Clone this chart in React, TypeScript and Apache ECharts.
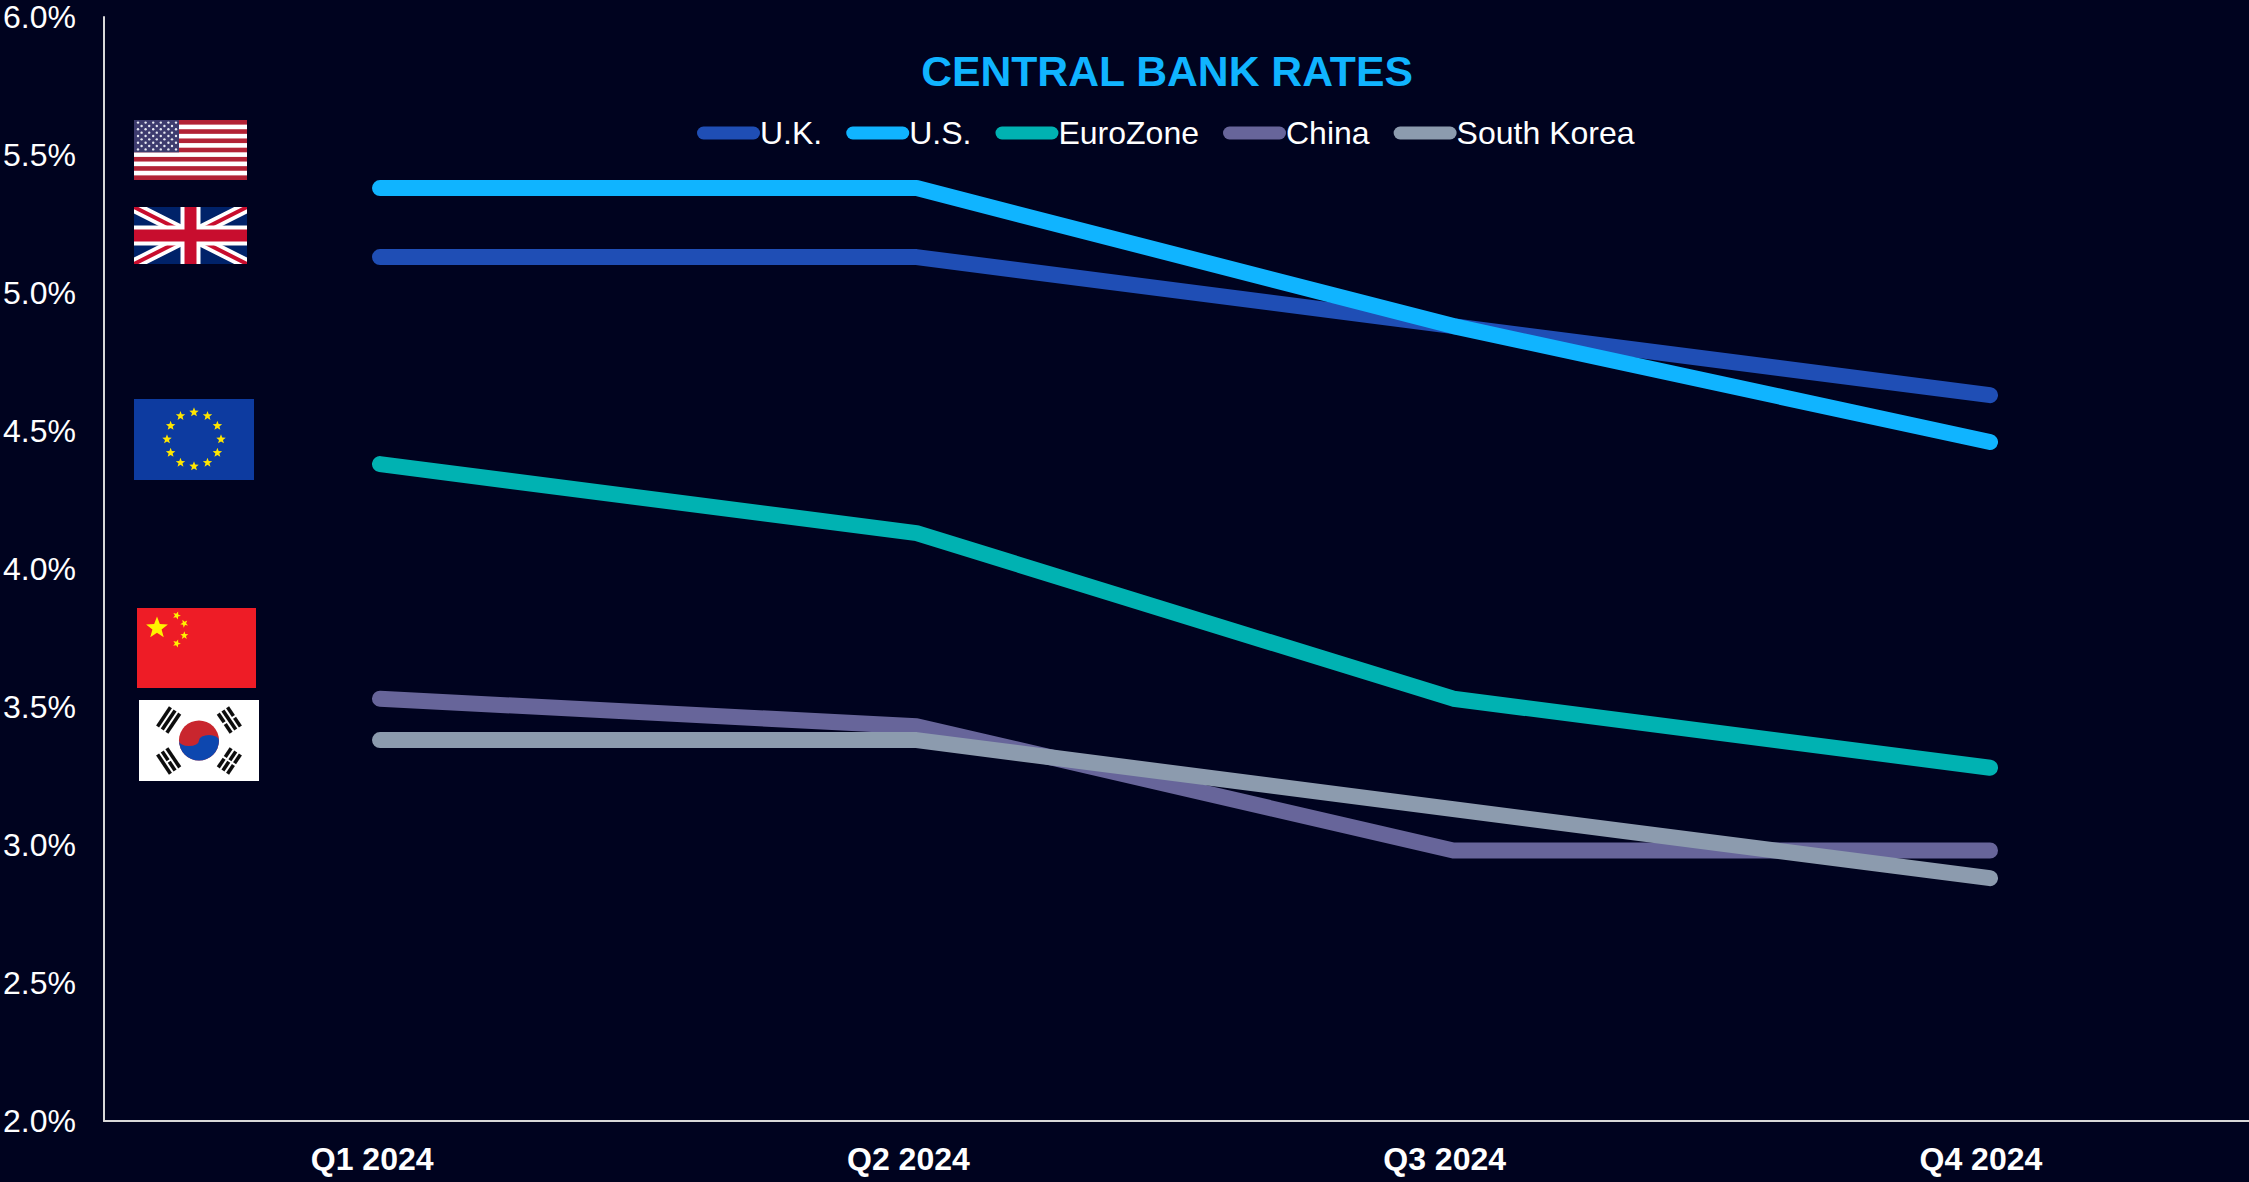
import React, { useEffect, useRef } from "react";
import * as echarts from "echarts";

const quarters = ["Q1 2024", "Q2 2024", "Q3 2024", "Q4 2024"];
const ukRates = [5.13, 5.13, 4.88, 4.63];
const usRates = [5.38, 5.38, 4.88, 4.46];
const euroRates = [4.38, 4.13, 3.53, 3.28];
const chinaRates = [3.53, 3.43, 2.98, 2.98];
const koreaRates = [3.38, 3.38, 3.13, 2.88];

const seriesNames = ["U.K.", "U.S.", "EuroZone", "China", "South Korea"];
const seriesColors = ["#1F4EB5", "#10B4FF", "#00B2B2", "#67659A", "#8C9BAE"];
const seriesValues = [ukRates, usRates, euroRates, chinaRates, koreaRates];

const BACKGROUND = "#00031F";
const FONT = "'Liberation Sans', Arial, sans-serif";
const STADIUM = "path://M6.5 0H56.5A6.5 6.5 0 0 1 56.5 13H6.5A6.5 6.5 0 0 1 6.5 0Z";

const svgUri = (w: number, h: number, body: string) =>
  "data:image/svg+xml;charset=utf-8," +
  encodeURIComponent(
    `<svg xmlns="http://www.w3.org/2000/svg" width="${w}" height="${h}" viewBox="0 0 ${w} ${h}">` +
      `<defs><filter id="s" x="-5%" y="-5%" width="110%" height="110%"><feGaussianBlur stdDeviation="0.45"/></filter></defs>` +
      `<g filter="url(#s)">${body}</g></svg>`
  );

// Five-pointed star as an SVG polygon, centred on (cx, cy).
const star = (cx: number, cy: number, r: number, fill: string, rot = 0) => {
  const pts: string[] = [];
  for (let i = 0; i < 10; i++) {
    const rad = i % 2 === 0 ? r : r * 0.42;
    const a = (-90 + rot + i * 36) * (Math.PI / 180);
    pts.push(`${(cx + rad * Math.cos(a)).toFixed(2)},${(cy + rad * Math.sin(a)).toFixed(2)}`);
  }
  return `<polygon points="${pts.join(" ")}" fill="${fill}"/>`;
};

const usFlag = () => {
  const w = 113;
  const h = 60;
  const sh = h / 13;
  let b = `<rect width="${w}" height="${h}" fill="#fff"/>`;
  for (let i = 0; i < 13; i += 2) {
    b += `<rect y="${i * sh}" width="${w}" height="${sh}" fill="#B22234"/>`;
  }
  const cw = 45;
  const ch = sh * 7;
  b += `<rect width="${cw}" height="${ch}" fill="#3C3B6E"/>`;
  for (let row = 0; row < 9; row++) {
    const n = row % 2 === 0 ? 6 : 5;
    for (let c = 0; c < n; c++) {
      const x = (row % 2 === 0 ? 4 : 7.6) + c * 7.6;
      b += `<circle cx="${x}" cy="${2.6 + row * 3.35}" r="1.2" fill="#E6E8F2"/>`;
    }
  }
  return svgUri(w, h, b);
};

const ukFlag = () => {
  const w = 113;
  const h = 57;
  const b =
    `<rect width="${w}" height="${h}" fill="#012169"/>` +
    `<path d="M0 0L${w} ${h}M${w} 0L0 ${h}" stroke="#fff" stroke-width="11.5"/>` +
    `<path d="M0 0L${w} ${h}M${w} 0L0 ${h}" stroke="#C8102E" stroke-width="4"/>` +
    `<path d="M${w / 2} 0V${h}M0 ${h / 2}H${w}" stroke="#fff" stroke-width="20"/>` +
    `<path d="M${w / 2} 0V${h}M0 ${h / 2}H${w}" stroke="#C8102E" stroke-width="12"/>`;
  return svgUri(w, h, b);
};

const euFlag = () => {
  const w = 120;
  const h = 81;
  let b = `<rect width="${w}" height="${h}" fill="#0B3AA0"/>`;
  for (let i = 0; i < 12; i++) {
    const a = (i * 30 - 90) * (Math.PI / 180);
    b += star(60 + 27 * Math.cos(a), 40.3 + 27 * Math.sin(a), 5, "#FFE600");
  }
  return svgUri(w, h, b);
};

const chinaFlag = () => {
  const w = 119;
  const h = 80;
  const b =
    `<rect width="${w}" height="${h}" fill="#EE1C25"/>` +
    star(20, 20, 11.5, "#FFF200") +
    star(39.7, 7.5, 4.2, "#FFF200", 20) +
    star(47.3, 15.5, 4.2, "#FFF200", 45) +
    star(47.3, 27.5, 4.2, "#FFF200", 0) +
    star(39.7, 35.5, 4.2, "#FFF200", 20);
  return svgUri(w, h, b);
};

const koreaFlag = () => {
  const w = 120;
  const h = 81;
  const cx = 60;
  const cy = 40.5;
  // Three bars of a trigram, rotated about the flag centre.
  const trigram = (angle: number, broken: boolean[]) => {
    let g = `<g transform="translate(${cx} ${cy}) rotate(${angle})">`;
    broken.forEach((isBroken, i) => {
      const y = -44 + i * 5.6;
      if (isBroken) {
        g += `<rect x="-11.5" y="${y}" width="10.5" height="3.6" fill="#111"/>`;
        g += `<rect x="1" y="${y}" width="10.5" height="3.6" fill="#111"/>`;
      } else {
        g += `<rect x="-11.5" y="${y}" width="23" height="3.6" fill="#111"/>`;
      }
    });
    return g + "</g>";
  };
  const r = 20;
  const ry = r * 0.28;
  const b =
    `<rect width="${w}" height="${h}" fill="#fff"/>` +
    `<circle cx="${cx}" cy="${cy}" r="${r}" fill="#C9282D"/>` +
    `<path d="M${cx - r} ${cy}A${r} ${r} 0 0 0 ${cx + r} ${cy}A${r / 2} ${ry} 0 0 0 ${cx} ${cy}A${r / 2} ${ry} 0 0 1 ${cx - r} ${cy}Z" fill="#0F47AF"/>` +
    trigram(-56, [false, false, false]) +
    trigram(56, [true, false, true]) +
    trigram(-124, [false, true, false]) +
    trigram(124, [true, true, true]);
  return svgUri(w, h, b);
};

const flags = [
  { make: usFlag, x: 134, y: 120, width: 113, height: 60 },
  { make: ukFlag, x: 134, y: 207, width: 113, height: 57 },
  { make: euFlag, x: 134, y: 399, width: 120, height: 81 },
  { make: chinaFlag, x: 137, y: 608, width: 119, height: 80 },
  { make: koreaFlag, x: 139, y: 700, width: 120, height: 81 },
];

export default function App() {
  const ref = useRef<HTMLDivElement>(null);

  useEffect(() => {
    document.body.style.margin = "0";
    document.body.style.background = BACKGROUND;
    const chart = echarts.init(ref.current!, null, { renderer: "svg" });
    chart.setOption({
      animation: false,
      backgroundColor: BACKGROUND,
      title: {
        text: "CENTRAL BANK RATES",
        left: 1162,
        top: 44,
        textAlign: "center",
        textStyle: { color: "#10B4FF", fontFamily: FONT, fontSize: 42.7, fontWeight: "bold" },
      },
      legend: {
        left: 697,
        top: 117,
        itemWidth: 63,
        itemHeight: 13,
        itemGap: 24,
        padding: 0,
        icon: STADIUM,
        itemStyle: { borderWidth: 0 },
        textStyle: { color: "#FFFFFF", fontFamily: FONT, fontSize: 32, padding: [0, 0, 0, -5] },
        data: seriesNames,
      },
      // The first grid carries the visible axes; the second places the lines, end to end.
      grid: [
        { left: 104, top: 17, width: 2145, height: 1104, containLabel: false },
        { left: 380, top: 17, width: 1610, height: 1104, containLabel: false },
      ],
      xAxis: [
        {
          type: "category",
          gridIndex: 0,
          data: quarters,
          axisLine: { lineStyle: { color: "#D9D9D9", width: 2 } },
          axisTick: { show: false },
          axisLabel: {
            color: "#FFFFFF",
            fontFamily: FONT,
            fontSize: 32,
            fontWeight: "bold",
            margin: 22,
          },
        },
        {
          type: "category",
          gridIndex: 1,
          data: quarters,
          boundaryGap: false,
          show: false,
        },
      ],
      yAxis: [
        {
          type: "value",
          gridIndex: 0,
          min: 2,
          max: 6,
          interval: 0.5,
          axisLine: { show: true, lineStyle: { color: "#D9D9D9", width: 2 } },
          axisTick: { show: false },
          splitLine: { show: false },
          axisLabel: {
            color: "#FFFFFF",
            fontFamily: FONT,
            fontSize: 32,
            margin: 28,
            formatter: (v: number) => v.toFixed(1) + "%",
          },
        },
        {
          type: "value",
          gridIndex: 1,
          min: 2,
          max: 6,
          interval: 0.5,
          show: false,
        },
      ],
      series: seriesNames.map((name, i) => ({
        name,
        type: "line",
        xAxisIndex: 1,
        yAxisIndex: 1,
        data: seriesValues[i],
        symbol: "none",
        color: seriesColors[i],
        itemStyle: { color: seriesColors[i] },
        lineStyle: { color: seriesColors[i], width: 16, cap: "round", join: "round" },
      })),
      graphic: flags.map((f) => ({
        type: "image",
        x: f.x,
        y: f.y,
        style: { image: f.make(), width: f.width, height: f.height },
      })),
    });
    return () => chart.dispose();
  }, []);

  return (
    <div
      ref={ref}
      style={{ position: "absolute", left: 0, top: 0, width: 2249, height: 1182 }}
    />
  );
}
